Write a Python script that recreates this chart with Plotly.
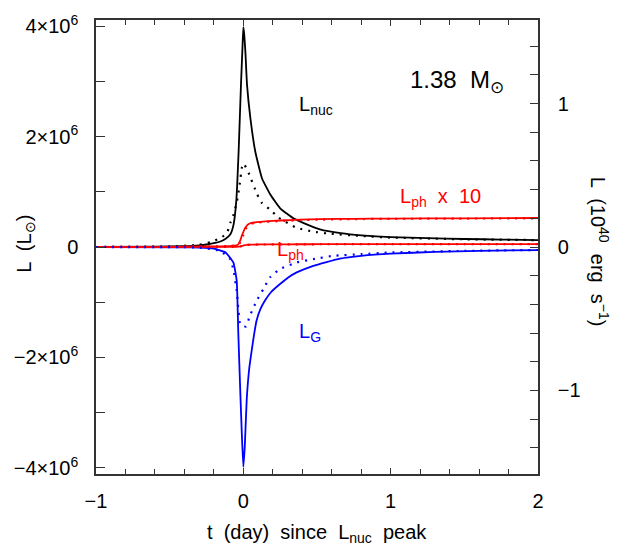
import plotly.graph_objects as go

# ---------------- data (luminosities in units of 10^6 L_sun, time in days) ----------------
t_nuc = [-1.0, -0.6, -0.4, -0.3, -0.25, -0.2, -0.156, -0.12, -0.088, -0.066, -0.048, -0.032,
         -0.016, -0.006, 0.0, 0.006, 0.014, 0.025, 0.048, 0.081, 0.127, 0.183, 0.25, 0.34,
         0.43, 0.52, 0.66, 0.8, 1.0, 1.25, 1.5, 1.75, 2.0]
L_nuc = [0.0, 0.005, 0.015, 0.03, 0.045, 0.07, 0.10, 0.15, 0.23, 0.41, 0.83, 1.73,
         2.94, 3.6, 3.98, 3.85, 3.53, 2.94, 2.33, 1.73, 1.24, 0.95, 0.70, 0.52,
         0.41, 0.32, 0.25, 0.21, 0.18, 0.16, 0.145, 0.135, 0.126]

t_nuc_d = [-1.0, -0.5, -0.3, -0.22, -0.15, -0.11, -0.088, -0.066, -0.043, -0.025, -0.009, 0.0,
           0.01, 0.036, 0.091, 0.125, 0.181, 0.24, 0.36, 0.47, 0.59, 0.8, 1.0, 1.5, 2.0]
L_nuc_d = [0.0, 0.01, 0.04, 0.09, 0.17, 0.26, 0.44, 0.59, 0.83, 1.13, 1.45, 1.51,
           1.48, 1.34, 0.97, 0.80, 0.68, 0.53, 0.35, 0.28, 0.24, 0.20, 0.17, 0.14, 0.125]

t_G = [-1.0, -0.4, -0.3, -0.2, -0.12, -0.068, -0.045, -0.034, -0.022, -0.01, 0.0, 0.01,
       0.023, 0.04, 0.057, 0.075, 0.09, 0.115, 0.147, 0.19, 0.249, 0.3, 0.362, 0.475, 0.656,
       0.8, 1.0, 1.3, 1.6, 2.0]
L_G = [0.0, -0.005, -0.012, -0.03, -0.10, -0.28, -0.61, -1.57, -2.52, -3.4, -3.98, -3.6,
       -2.76, -2.2, -1.87, -1.55, -1.33, -1.13, -0.97, -0.81, -0.67, -0.56, -0.46, -0.34, -0.21,
       -0.16, -0.12, -0.09, -0.07, -0.055]

t_G_d = [-1.0, -0.4, -0.3, -0.158, -0.09, -0.068, -0.045, -0.022, 0.0, 0.018, 0.045, 0.091,
         0.136, 0.181, 0.249, 0.362, 0.475, 0.61, 0.8, 1.0, 1.5, 2.0]
L_G_d = [0.0, -0.004, -0.01, -0.07, -0.22, -0.40, -0.79, -1.39, -1.43, -1.44, -1.24, -0.97,
         -0.76, -0.55, -0.40, -0.28, -0.22, -0.16, -0.13, -0.10, -0.07, -0.054]

t_ph = [-1.0, -0.5, -0.2, -0.08, -0.045, -0.034, -0.022, -0.011, 0.0, 0.011, 0.022, 0.034,
        0.055, 0.09, 0.15, 0.25, 0.38, 0.52, 0.75, 1.0, 1.5, 2.0]
L_ph = [0.0, 0.0004, 0.001, 0.002, 0.003, 0.005, 0.011, 0.020, 0.027, 0.034, 0.038, 0.041,
        0.0435, 0.045, 0.0465, 0.048, 0.0495, 0.0505, 0.051, 0.0515, 0.052, 0.0525]
L_ph_d = [0.0, 0.0004, 0.001, 0.002, 0.003, 0.004, 0.008, 0.015, 0.022, 0.030, 0.035, 0.0385,
          0.042, 0.044, 0.0455, 0.047, 0.0485, 0.0495, 0.0505, 0.051, 0.0515, 0.052]
PH_SCALE = 10

UNIT = 1e6            # L_sun per data unit
LSUN_CGS = 3.85e33    # erg/s
x_ticks = [-1, 0, 1, 2]
x_ticktext = ["\u22121", "0", "1", "2"]
y_ticks = [-4e6, -2e6, 0, 2e6, 4e6]
y_ticktext = ["\u22124\u00d710<sup>6</sup>", "\u22122\u00d710<sup>6</sup>", "0",
              "2\u00d710<sup>6</sup>", "4\u00d710<sup>6</sup>"]
y_minor = [-4e6, -3e6, -2e6, -1e6, 0, 1e6, 2e6, 3e6, 4e6]
y2_ticks = [-1, 0, 1]

YMAX = 4.11e6
FONT = "Liberation Sans, Arial, sans-serif"

def sc(v, k=1.0):
    return [a * UNIT * k for a in v]

fig = go.Figure()
dot = "2px,6px"
sp = dict(shape="spline", smoothing=0.4)
fig.add_trace(go.Scatter(x=t_nuc, y=sc(L_nuc), mode="lines", line=dict(color="black", width=1.8, **sp)))
fig.add_trace(go.Scatter(x=t_nuc_d, y=sc(L_nuc_d), mode="lines", line=dict(color="black", width=2.2, dash=dot, **sp)))
fig.add_trace(go.Scatter(x=t_G, y=sc(L_G), mode="lines", line=dict(color="blue", width=1.8, **sp)))
fig.add_trace(go.Scatter(x=t_ph, y=sc(L_ph, PH_SCALE), mode="lines", line=dict(color="red", width=1.8, **sp)))
fig.add_trace(go.Scatter(x=t_ph, y=sc(L_ph_d, PH_SCALE), mode="lines", line=dict(color="red", width=2.2, dash=dot, **sp)))
fig.add_trace(go.Scatter(x=t_ph, y=sc(L_ph), mode="lines", line=dict(color="red", width=1.8, **sp)))
fig.add_trace(go.Scatter(x=t_ph, y=sc(L_ph_d), mode="lines", line=dict(color="red", width=2.2, dash=dot, **sp)))
fig.add_trace(go.Scatter(x=t_G_d, y=sc(L_G_d), mode="lines", line=dict(color="blue", width=2.2, dash=dot, **sp)))
# invisible trace for the right axis
fig.add_trace(go.Scatter(x=[None], y=[None], yaxis="y2", mode="lines", showlegend=False))

axcol = "#333333"
fig.update_layout(
    width=617, height=548,
    margin=dict(l=96, r=79, t=17, b=74),
    paper_bgcolor="white", plot_bgcolor="white",
    showlegend=False,
    font=dict(family=FONT, size=19, color="black"),
    xaxis=dict(range=[-1, 2], tickvals=x_ticks, ticktext=x_ticktext,
               ticks="inside", ticklen=6, tickwidth=1.3, tickcolor=axcol,
               showline=True, linecolor=axcol, linewidth=1.5, mirror="ticks",
               showgrid=False, zeroline=False, ticklabelstandoff=8,
               tickfont=dict(size=20),
               minor=dict(dtick=0.2, tick0=0, ticks="inside", ticklen=5, tickwidth=1.3, tickcolor=axcol)),
    yaxis=dict(range=[-YMAX, YMAX], tickvals=y_ticks, ticktext=y_ticktext,
               ticks="inside", ticklen=9, tickwidth=1.3, tickcolor=axcol,
               showline=True, linecolor=axcol, linewidth=1.5,
               showgrid=False, zeroline=False, ticklabelstandoff=12,
               tickfont=dict(size=20),
               minor=dict(tickvals=y_minor, ticks="inside", ticklen=9, tickwidth=1.3, tickcolor=axcol)),
    yaxis2=dict(range=[-YMAX * LSUN_CGS / 1e40, YMAX * LSUN_CGS / 1e40], overlaying="y", side="right",
                tickvals=y2_ticks, ticks="inside", ticklen=8, tickwidth=1.3, tickcolor=axcol,
                showline=True, linecolor=axcol, linewidth=1.5,
                showgrid=False, zeroline=False, ticklabelstandoff=14,
                tickfont=dict(size=20),
                minor=dict(dtick=0.2, tick0=0, ticks="inside", ticklen=8, tickwidth=1.3, tickcolor=axcol)),
)

ann = [
    dict(text="1.38  M<sub>\u2299</sub>", x=1.12, y=3.32e6, xref="x", yref="y",
         xanchor="left", yanchor="top", font=dict(size=24, color="black")),
    dict(text="L<sub>nuc</sub>", x=0.364, y=2.83e6, xref="x", yref="y",
         xanchor="left", yanchor="top", font=dict(size=20, color="black")),
    dict(text="L<sub>ph</sub>  x  10", x=1.05, y=1.15e6, xref="x", yref="y",
         xanchor="left", yanchor="top", font=dict(size=20, color="red")),
    dict(text="L<sub>ph</sub>", x=0.215, y=0.2e6, xref="x", yref="y",
         xanchor="left", yanchor="top", font=dict(size=20, color="red")),
    dict(text="L<sub>G</sub>", x=0.362, y=-1.29e6, xref="x", yref="y",
         xanchor="left", yanchor="top", font=dict(size=20, color="blue")),
    dict(text="t  (day)  since  L<sub>nuc</sub>  peak", x=0.5, y=-0.1, xref="paper", yref="paper",
         xanchor="center", yanchor="top", font=dict(size=20)),
    dict(text="L  (L<sub>\u2299</sub>)", x=-0.16, y=0.508, xref="paper", yref="paper",
         xanchor="center", yanchor="middle", textangle=-90, font=dict(size=20)),
    dict(text="L  (10<sup>40</sup>  erg  s<sup>\u22121</sup>)", x=1.14, y=0.49, xref="paper", yref="paper",
         xanchor="center", yanchor="middle", textangle=90, font=dict(size=20)),
]
for a in ann:
    a["showarrow"] = False
    fig.add_annotation(**a)

fig.write_html("out.html")
